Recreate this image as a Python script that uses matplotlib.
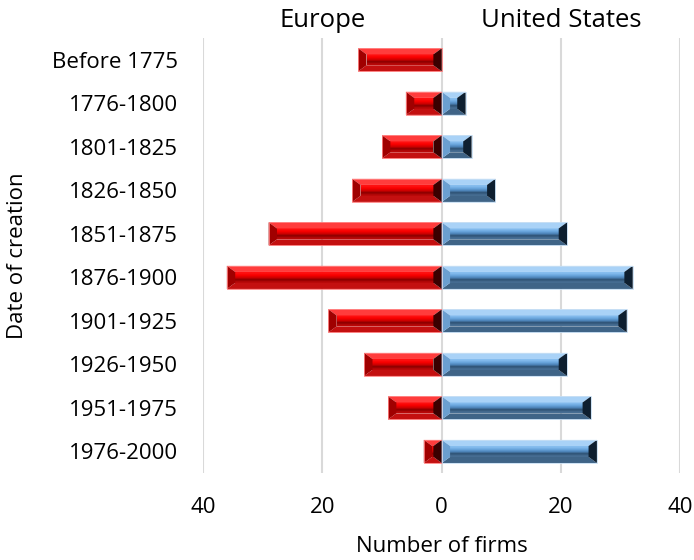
import numpy as np
import matplotlib
matplotlib.use("Agg")
import matplotlib.pyplot as plt
from matplotlib.patches import Polygon
from matplotlib.colors import to_rgb

periods = ["Before 1775", "1776-1800", "1801-1825", "1826-1850", "1851-1875",
           "1876-1900", "1901-1925", "1926-1950", "1951-1975", "1976-2000"]
europe = [14, 6, 10, 15, 29, 36, 19, 13, 9, 3]
united_states = [0, 4, 5, 9, 21, 32, 31, 21, 25, 26]

RED = dict(top="#ff3c3c", bottom="#c41010", left="#a00000", right="#3a0000",
           grad=["#ff1010", "#f80000", "#d00000", "#8a0000", "#b80808"], edge="#ff8080")
BLUE = dict(top="#a9d2f7", bottom="#3f6487", left="#6b9fd0", right="#0e1f30",
            grad=["#86bdee", "#6aa6de", "#4f86bb", "#2f5274", "#476e93"], edge="#c6def4")


def bevel(ax, patch, sty, dx=1.4, dy=0.14):
    x0 = min(patch.get_x(), patch.get_x() + patch.get_width())
    x1 = max(patch.get_x(), patch.get_x() + patch.get_width())
    yt = patch.get_y()                    # visually top (axis inverted)
    yb = patch.get_y() + patch.get_height()
    if x1 - x0 <= 0:
        return
    dx = min(dx, (x1 - x0) / 2)
    xi0, xi1 = x0 + dx, x1 - dx
    # centre face gradient
    cols = np.array([to_rgb(c) for c in sty["grad"]])
    grad = cols[:, None, :]
    if xi1 > xi0:
        ax.imshow(grad, extent=(xi0, xi1, yb - dy, yt + dy), aspect="auto",
                  interpolation="bilinear", zorder=3)
    facets = [
        ([(x0, yt), (x1, yt), (xi1, yt + dy), (xi0, yt + dy)], sty["top"]),
        ([(x0, yb), (x1, yb), (xi1, yb - dy), (xi0, yb - dy)], sty["bottom"]),
        ([(x0, yt), (xi0, yt + dy), (xi0, yb - dy), (x0, yb)], sty["left"]),
        ([(x1, yt), (xi1, yt + dy), (xi1, yb - dy), (x1, yb)], sty["right"]),
    ]
    for pts, c in facets:
        ax.add_patch(Polygon(pts, closed=True, facecolor=c, edgecolor="none", zorder=4))
    ax.add_patch(Polygon([(x0, yt), (x1, yt), (x1, yb), (x0, yb)], closed=True,
                         facecolor="none", edgecolor=sty["edge"], lw=0.6, zorder=5))


plt.rcParams["font.family"] = ["Open Sans", "DejaVu Sans"]

fig = plt.figure(figsize=(6.94, 5.6), dpi=100)
ax = fig.add_axes([0.2925, 0.155, 0.688, 0.777])

y = np.arange(len(periods))
eu_bars = ax.barh(y, [-v for v in europe], height=0.53, color="none", zorder=2)
us_bars = ax.barh(y, united_states, height=0.53, color="none", zorder=2)
for p in eu_bars:
    bevel(ax, p, RED)
for p in us_bars:
    bevel(ax, p, BLUE)

ax.set_xlim(-40, 40)
ax.set_ylim(len(periods) - 0.5, -0.5)
ax.set_xticks([-40, -20, 0, 20, 40])
ax.set_xticklabels(["40", "20", "0", "20", "40"])
ax.set_yticks(y)
ax.set_yticklabels(periods)
ax.tick_params(axis="both", length=0, labelsize=16, colors="#000000")
ax.tick_params(axis="x", pad=17)
ax.tick_params(axis="y", pad=18)
ax.grid(axis="x", color="#d9d9d9", lw=1.5, zorder=0)
ax.set_axisbelow(True)
for s in ax.spines.values():
    s.set_visible(False)

ax.set_xlabel("Number of firms", fontsize=16)
ax.xaxis.set_label_coords(0.5, -0.145)
ax.set_ylabel("Date of creation", fontsize=16)
ax.yaxis.set_label_coords(-0.367, 0.5)

ax.text(-20, 1.04, "Europe", transform=ax.get_xaxis_transform(),
        ha="center", va="center", fontsize=18.5)
ax.text(20, 1.04, "United States", transform=ax.get_xaxis_transform(),
        ha="center", va="center", fontsize=18.5)

fig.savefig("out.png", dpi=100)
